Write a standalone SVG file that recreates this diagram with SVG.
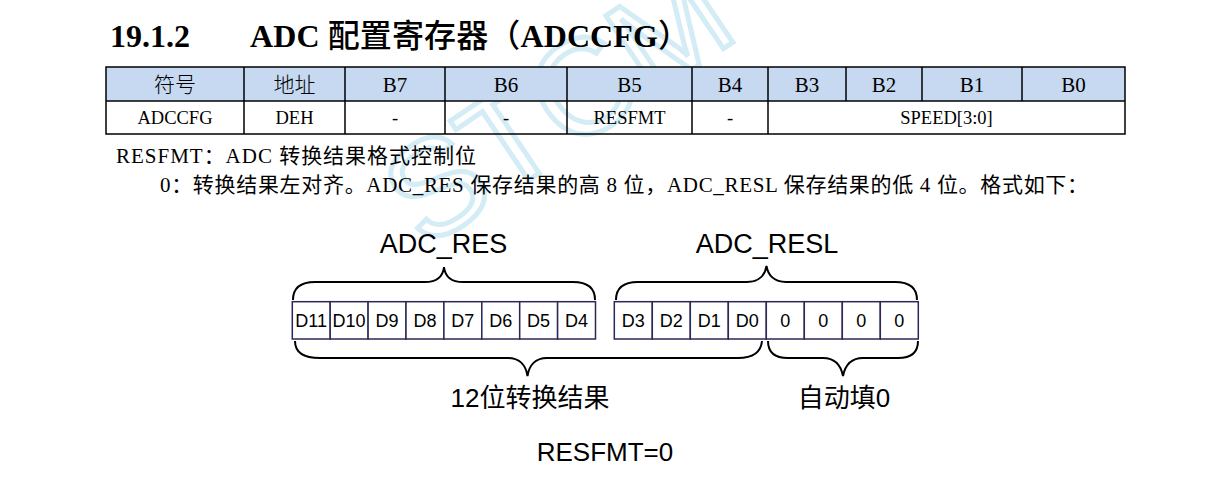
<svg xmlns="http://www.w3.org/2000/svg" width="1208" height="487" viewBox="0 0 1208 487">
<style>
.ser{font-family:"Liberation Serif","Noto Sans CJK SC",serif;fill:#000}
.cjk{font-family:"Noto Sans CJK SC",sans-serif;fill:#000}
.sans{font-family:"Liberation Sans","Noto Sans CJK SC",sans-serif;fill:#000}
.hd{font-size:21px;text-anchor:middle}
.dt{font-size:18.5px;text-anchor:middle}
.cell{fill:#fff;stroke:#2b2857;stroke-width:1.5}
.ct{font-size:18px;text-anchor:middle}
.brace{fill:none;stroke:#000;stroke-width:2}
.grid{stroke:#000;stroke-width:1.5;fill:none}
</style>
<g id="watermark">
<text x="0" y="0" transform="translate(425,250) rotate(-34)" style="font-family:'Liberation Sans',sans-serif;font-size:135px;fill:none;stroke:#d3ecf5;stroke-width:5">STCM</text>
</g>
<g id="title">
<text x="110" y="47" class="ser" style="font-size:32px;font-weight:bold">19.1.2</text>
<text x="250" y="47" class="ser" style="font-size:32px;font-weight:bold" textLength="440">ADC <tspan class="cjk" style="font-weight:500">配置寄存器（</tspan>ADCCFG<tspan class="cjk" style="font-weight:500">）</tspan></text>
</g>
<g id="table">
<rect x="106" y="67" width="1019" height="34" fill="#c6d9f1"/>
<rect x="106" y="67" width="1019" height="67" class="grid"/>
<line x1="106" y1="101" x2="1125" y2="101" class="grid"/>
<path class="grid" d="M244,67V134M345,67V134M445,67V134M567,67V134M692,67V134M768,67V134M846,67V101M922,67V101M1022,67V101"/>
<text class="cjk hd" x="175" y="92" style="font-weight:300">符号</text>
<text class="cjk hd" x="294.5" y="92" style="font-weight:300">地址</text>
<text class="ser hd" x="395" y="92">B7</text>
<text class="ser hd" x="506" y="92">B6</text>
<text class="ser hd" x="629.5" y="92">B5</text>
<text class="ser hd" x="730" y="92">B4</text>
<text class="ser hd" x="807" y="92">B3</text>
<text class="ser hd" x="884" y="92">B2</text>
<text class="ser hd" x="972" y="92">B1</text>
<text class="ser hd" x="1073.5" y="92">B0</text>
<text class="ser dt" x="175" y="124">ADCCFG</text>
<text class="ser dt" x="294.5" y="124">DEH</text>
<text class="ser dt" x="395" y="124">-</text>
<text class="ser dt" x="506" y="124">-</text>
<text class="ser dt" x="629.5" y="124">RESFMT</text>
<text class="ser dt" x="730" y="124">-</text>
<text class="ser dt" x="946.5" y="124">SPEED[3:0]</text>
</g>
<g id="desc">
<text class="ser" x="116" y="163" style="font-size:21px" textLength="360">RESFMT<tspan class="cjk">：</tspan>ADC <tspan class="cjk">转换结果格式控制位</tspan></text>
<text class="ser" x="160" y="192" style="font-size:21px" textLength="928">0<tspan class="cjk">：转换结果左对齐。</tspan>ADC_RES <tspan class="cjk">保存结果的高</tspan> 8 <tspan class="cjk">位，</tspan>ADC_RESL <tspan class="cjk">保存结果的低</tspan> 4 <tspan class="cjk">位。格式如下：</tspan></text>
</g>
<g id="adc_res">
<rect class="cell" x="292.3" y="301.7" width="37.9" height="37.3"/>
<rect class="cell" x="330.2" y="301.7" width="37.9" height="37.3"/>
<rect class="cell" x="368.1" y="301.7" width="37.9" height="37.3"/>
<rect class="cell" x="406" y="301.7" width="37.9" height="37.3"/>
<rect class="cell" x="443.9" y="301.7" width="37.9" height="37.3"/>
<rect class="cell" x="481.8" y="301.7" width="37.9" height="37.3"/>
<rect class="cell" x="519.7" y="301.7" width="37.9" height="37.3"/>
<rect class="cell" x="557.6" y="301.7" width="37.9" height="37.3"/>
<text class="sans ct" x="311.2" y="327">D11</text>
<text class="sans ct" x="349.1" y="327">D10</text>
<text class="sans ct" x="387" y="327">D9</text>
<text class="sans ct" x="425" y="327">D8</text>
<text class="sans ct" x="462.8" y="327">D7</text>
<text class="sans ct" x="500.7" y="327">D6</text>
<text class="sans ct" x="538.6" y="327">D5</text>
<text class="sans ct" x="576.5" y="327">D4</text>
</g>
<g id="adc_resl">
<rect class="cell" x="614.3" y="301.7" width="38" height="37.3"/>
<rect class="cell" x="652.3" y="301.7" width="38" height="37.3"/>
<rect class="cell" x="690.3" y="301.7" width="38" height="37.3"/>
<rect class="cell" x="728.3" y="301.7" width="38" height="37.3"/>
<rect class="cell" x="766.3" y="301.7" width="38" height="37.3"/>
<rect class="cell" x="804.3" y="301.7" width="38" height="37.3"/>
<rect class="cell" x="842.3" y="301.7" width="38" height="37.3"/>
<rect class="cell" x="880.3" y="301.7" width="38" height="37.3"/>
<text class="sans ct" x="633.3" y="327">D3</text>
<text class="sans ct" x="671.3" y="327">D2</text>
<text class="sans ct" x="709.3" y="327">D1</text>
<text class="sans ct" x="747.3" y="327">D0</text>
<text class="sans ct" x="785.3" y="327">0</text>
<text class="sans ct" x="823.3" y="327">0</text>
<text class="sans ct" x="861.3" y="327">0</text>
<text class="sans ct" x="899.3" y="327">0</text>
</g>
<g id="connectors">
<path class="brace" d="M293,300 C293,288 300,282 315,282 L425,282 C437,282 443,276 444,267 C445,276 451,282 463,282 L573,282 C588,282 595,288 595,300"/>
<path class="brace" d="M616,300 C616,288 623,282 638,282 L747,282 C759,282 765,275 766.5,266 C768,275 774,282 786,282 L895,282 C910,282 917,288 917,300"/>
<path class="brace" d="M295,341 C295,352 303,358 320,358 L508,358 C520,358 526,366 527.5,376 C529,366 535,358 547,358 L738,358 C754,358 761,352 762,341"/>
<path class="brace" d="M768,341 C768,352 774,358 788,358 L823,358 C835,358 841,366 843,376 C845,366 851,358 863,358 L898,358 C912,358 918,352 918,341"/>
</g>
<g id="labels">
<text class="sans" x="443.5" y="253" style="font-size:27px;text-anchor:middle">ADC_RES</text>
<text class="sans" x="767" y="253" style="font-size:27px;text-anchor:middle">ADC_RESL</text>
<text class="sans" x="530" y="407" style="font-size:26px;text-anchor:middle">12位转换结果</text>
<text class="sans" x="844" y="407" style="font-size:26px;text-anchor:middle">自动填0</text>
<text class="sans" x="605" y="461" style="font-size:26px;text-anchor:middle">RESFMT=0</text>
</g>
</svg>
